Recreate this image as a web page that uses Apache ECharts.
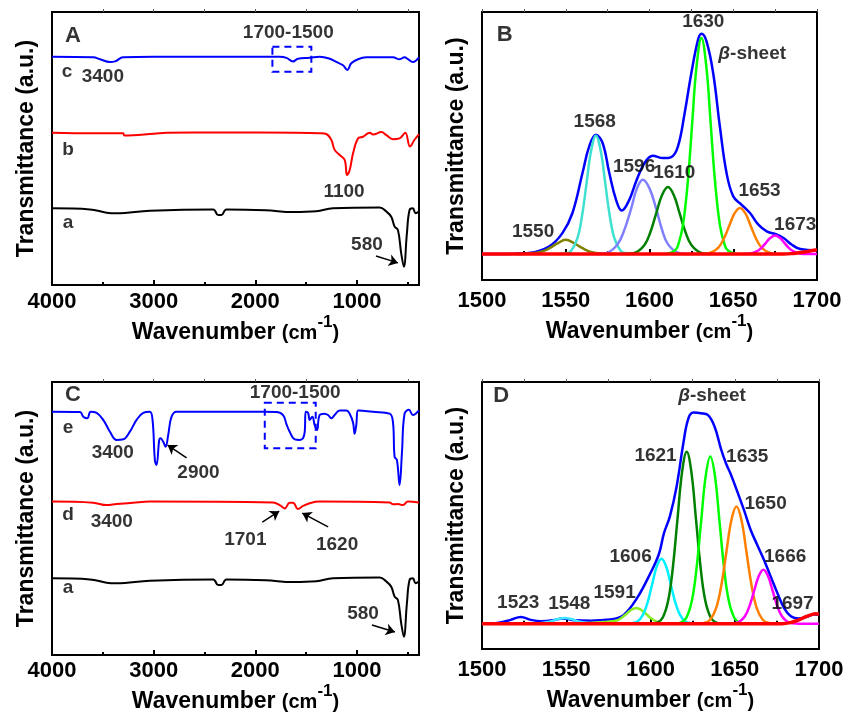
<!DOCTYPE html>
<html>
<head>
<meta charset="utf-8">
<script src="https://cdn.jsdelivr.net/npm/echarts@6/dist/echarts.min.js"></script>
<style>
  html, body { margin: 0; padding: 0; background: #fff; }
  #chart { width: 856px; height: 714px; }
</style>
</head>
<body>
<div id="chart"></div>
<script>
// FTIR spectra, panels A and C: [wavenumber, transmittance (a.u.)]
const specA_c = [[4000,83.6],[3594,83.4],[3528,82.7],[3430,81.7],[3381,81.9],[3300,83.4],[3000,83.6],[2500,83.6],[2000,83.6],[1760,83.6],[1694,83.2],[1629,81.9],[1580,82.9],[1465,83.2],[1367,83.6],[1269,82.9],[1203,81.7],[1138,80.5],[1095,78.8],[1056,81.2],[990,82.7],[909,83.4],[646,83.4],[581,82.7],[532,83.4],[499,82.7],[450,81.7],[390,83.4]];
const specA_b = [[4000,55.8],[3600,55.6],[3300,55.6],[3290,54.8],[3000,55.4],[2873,55.8],[2350,55.9],[1600,55.8],[1367,55.6],[1302,55.3],[1252,53.1],[1220,49.5],[1170,47.6],[1121,45.8],[1098,40.3],[1072,42.1],[1039,48.2],[990,53.7],[941,54.3],[875,55.8],[842,55.1],[760,56.0],[711,54.9],[646,53.4],[581,53.7],[525,55.8],[479,50.7],[436,53.1],[390,55.3]];
const spec_a = [[4000,28.1],[3627,27.7],[3463,26.5],[3365,26.3],[3037,27.2],[2415,27.7],[2366,25.6],[2333,25.6],[2284,27.7],[1900,27.4],[1629,26.7],[1400,27.0],[1236,28.1],[777,28.4],[711,26.9],[663,25.0],[630,21.4],[597,20.1],[565,11.6],[539,6.7],[509,18.9],[483,27.5],[450,28.1],[424,26.3],[390,26.9]];
const specC_e = [[4000,89.1],[3725,89.0],[3692,87.3],[3653,86.7],[3620,89.1],[3561,88.7],[3496,86.1],[3430,81.8],[3365,78.8],[3299,79.0],[3234,81.8],[3168,86.1],[3103,88.7],[3037,89.1],[3011,86.1],[2988,71.4],[2972,69.6],[2945,78.8],[2932,79.4],[2906,78.1],[2883,76.3],[2857,80.6],[2824,87.3],[2775,89.1],[1924,89.1],[1793,89.0],[1727,87.9],[1694,84.6],[1662,81.8],[1612,79.0],[1563,78.8],[1531,79.4],[1514,81.8],[1504,89.1],[1481,88.7],[1465,86.1],[1439,87.3],[1416,84.2],[1393,82.4],[1367,87.9],[1318,88.4],[1285,87.9],[1252,86.7],[1220,87.9],[1170,89.6],[1104,89.6],[1072,88.4],[1039,85.2],[1023,81.0],[1006,84.6],[990,89.6],[842,89.1],[679,88.4],[646,85.2],[630,72.6],[607,71.4],[581,62.3],[558,73.9],[532,88.4],[489,89.8],[450,87.9],[390,89.6]];
const specC_d = [[4000,56.2],[3594,55.8],[3463,54.9],[3365,55.3],[3201,55.8],[3037,56.2],[1825,55.9],[1760,54.9],[1711,53.7],[1662,55.8],[1629,55.8],[1580,53.5],[1531,54.6],[1465,55.6],[1367,56.2],[679,55.9],[646,55.2],[597,55.3],[548,54.9],[499,56.2],[390,55.9]];

// Peak fitting, panel B: [wavenumber, intensity (a.u.)]
const fitB_sum = [[1500,0],[1520,0.2],[1528,0.5],[1540,3.5],[1548,9.7],[1554,19.0],[1560,37.5],[1564,49.8],[1568,55.2],[1572,51.4],[1576,37.5],[1580,25.2],[1583.4,20.1],[1588,25.2],[1592,33.6],[1597,42.1],[1602,45.5],[1608,44.4],[1613,44.9],[1617,49.8],[1621,65.3],[1625,83.8],[1629,99.2],[1631,101.9],[1634,98.5],[1638,83.8],[1642,59.1],[1646,37.5],[1650,26.7],[1655,22.8],[1660,19.0],[1665,13.6],[1670,10.5],[1675,9.3],[1680,7.4],[1685,4.3],[1690,2.3],[1700,1.7]];
const fitB_1550 = [[1520,0],[1528,0.3],[1535,1.0],[1540,2.6],[1545,4.9],[1550,6.6],[1555,5.0],[1560,2.7],[1565,1.0],[1572,0.2],[1580,0]];
const fitB_1568 = [[1545,0],[1550,0.4],[1553,1.3],[1557,7.4],[1560,19.0],[1562.5,33.3],[1565,47.2],[1568,54.8],[1571,47.2],[1573.5,33.3],[1576,19.0],[1579,7.4],[1583,1.3],[1586,0.4],[1592,0]];
const fitB_1596 = [[1568,0],[1575,0.7],[1581,4.6],[1585,11.2],[1589,20.9],[1592.5,30.4],[1596,34.4],[1600,30.4],[1604,20.9],[1607.5,11.2],[1611,4.6],[1617,0.7],[1624,0]];
const fitB_1610 = [[1586,0],[1591,0.5],[1597,4.2],[1600.5,10.1],[1604,18.8],[1607.5,27.3],[1611,31.0],[1614.5,27.3],[1618,18.8],[1621.5,10.1],[1625,4.2],[1631,0.5],[1636,0]];
const fitB_1630 = [[1610,0],[1615,1.5],[1617,3.9],[1620,13.5],[1623,34.7],[1625.5,60.7],[1628,86.2],[1631,100],[1634,86.2],[1636.5,60.7],[1639,34.7],[1642,13.5],[1645,3.9],[1647,1.5],[1652,0]];
const fitB_1653 = [[1632,0],[1636,0.5],[1641,2.9],[1644.25,6.9],[1647.5,12.9],[1650.75,18.8],[1654,21.3],[1657.25,18.8],[1660.5,12.9],[1663.75,6.9],[1667,2.9],[1672,0.5],[1676,0]];
const fitB_1673 = [[1656,0],[1660,0.2],[1664,1.2],[1667,3.0],[1669.5,5.2],[1672,7.4],[1675,8.6],[1678,7.4],[1680.5,5.2],[1683,3.0],[1686,1.2],[1690,0.2],[1700,0]];
const fitB_base = [[1500,0],[1680,0],[1686,0.3],[1690,0.7],[1695,1.3],[1700,2.0]];

// Peak fitting, panel D
const fitD_sum = [[1500,0],[1510,0.5],[1517,1.8],[1523,3.2],[1529,1.8],[1535,1.2],[1542,1.6],[1548,2.5],[1555,1.6],[1565,1.4],[1572,1.8],[1578,2.2],[1584,4.0],[1592,12.1],[1600,24.0],[1605,33.0],[1608,42.9],[1611.5,50.8],[1615.5,65.0],[1619.5,85.5],[1622.5,97.3],[1625.5,100],[1630,99.7],[1634,98.9],[1638,93.4],[1642,82.3],[1645,75.5],[1647.4,71.3],[1650.4,65.0],[1655.4,54.0],[1659.4,44.5],[1663.3,37.4],[1667.3,30.3],[1671.3,22.4],[1675.3,14.5],[1679.3,7.4],[1683.3,3.5],[1688,2.4],[1693,3.3],[1697,4.3],[1700,4.3]];
const fitD_1548 = [[1532,0],[1540,0.9],[1545,2.2],[1549,2.7],[1553,2.2],[1558,0.9],[1566,0]];
const fitD_1591 = [[1555,0],[1565,0.4],[1572,0.8],[1579.5,1.4],[1582.5,2.6],[1585.5,4.5],[1588.5,6.5],[1591.5,7.4],[1594.5,6.5],[1597.5,4.5],[1600.5,2.4],[1603.5,1.0],[1607.5,0.2],[1612,0]];
const fitD_1606 = [[1585,0],[1589,0.2],[1592.2,1.0],[1595.5,4.2],[1598.25,10.0],[1601,18.7],[1603.75,27.2],[1606.5,30.8],[1609.25,27.2],[1612,18.7],[1614.75,10.0],[1617.5,4.2],[1620.8,1.0],[1624,0.2],[1628,0]];
const fitD_1621 = [[1600,0],[1603.9,0.5],[1607.2,2.8],[1610.5,11.0],[1613.25,26.5],[1616,49.4],[1618.75,71.9],[1621.5,81.5],[1624.25,71.9],[1627,49.4],[1629.75,26.5],[1632.5,11.0],[1635.8,2.8],[1639.1,0.5],[1643,0]];
const fitD_1635 = [[1614,0],[1617.9,0.5],[1621.2,2.7],[1624.5,10.7],[1627.25,25.7],[1630,48.0],[1632.75,69.9],[1635.5,79.2],[1638.25,69.9],[1641,48.0],[1643.75,25.7],[1646.5,10.7],[1649.8,2.7],[1653.1,0.5],[1657,0]];
const fitD_1650 = [[1628,0],[1631.8,0.3],[1635.4,1.9],[1639,7.5],[1642,18.0],[1645,33.7],[1648,49.0],[1651,55.5],[1654,49.0],[1657,33.7],[1660,18.0],[1663,7.5],[1666.6,1.9],[1670.2,0.3],[1674,0]];
const fitD_1666 = [[1646,0],[1649.4,0.15],[1652.7,0.9],[1656,3.5],[1658.75,8.3],[1661.5,15.5],[1664.25,22.6],[1667,25.6],[1669.75,22.6],[1672.5,15.5],[1675.25,8.3],[1678,3.5],[1681.3,0.9],[1684.6,0.15],[1688,0],[1700,0]];
const fitD_base = [[1500,0],[1678,0],[1683,0.5],[1688,1.8],[1692,3.2],[1696,4.4],[1698,4.7],[1700,4.5]];

// tick values for the wide (4000-400) axes
const ticksWide = [1000, 2000, 3000, 4000];
const minorWide = [500, 1500, 2500, 3500];
const topWide = [500, 1000, 1500, 2000, 2500, 3000, 3500];

// annotation texts: [x, y, text, fontSize?]
const notesA = [[3794,91.2,'A',22],[1676,92.3,'1700-1500'],[3853,78.0,'c'],[3500,76.2,'3400'],[3843,49.5,'b'],[1127,34.1,'1100'],[3843,22.7,'a'],[902,14.7,'580']];
const notesB = [[1513.6,101.5,'B',22],[1632.1,107.3,'1630'],[1661.3,92.7,'{i|β}-sheet'],[1567.3,61.0,'1568'],[1590.8,40.6,'1596'],[1614.8,37.5,'1610'],[1665.7,29.5,'1653'],[1687.0,13.6,'1673'],[1530.5,10.2,'1550']];
const notesC = [[3794,95.2,'C',22],[1608,96.0,'1700-1500'],[3843,83.2,'e'],[3402,74.0,'3400'],[2559,66.7,'2900'],[3843,51.3,'d'],[3412,48.7,'3400'],[2098,42.1,'1701'],[1196,40.3,'1620'],[3843,24.5,'a'],[941,15.0,'580']];
const notesD = [[1511.4,107.9,'D',22],[1636.5,107.9,'{i|β}-sheet'],[1603,79.5,'1621'],[1657.4,78.9,'1635'],[1668.3,56.6,'1650'],[1588.2,31.9,'1606'],[1679.9,31.9,'1666'],[1578.7,14.5,'1591'],[1684.3,9.3,'1697'],[1521.5,10.1,'1523'],[1551.8,9.5,'1548']];
const arrowsA = [[813,10.6,597,8.1]];
const arrowsC = [[2676,72.2,2863,76.9],[1931,48.7,1765,52.7],[1284,46.9,1539,52.0],[853,11.0,627,8.4]];

const FONT = '"Liberation Sans", Arial, Helvetica, sans-serif';

function makeGrid(left, top, width, height) {
  return {
    left, top, width, height,
    show: true, borderColor: '#000', borderWidth: 2,
    backgroundColor: 'transparent', containLabel: false, outerBoundsMode: 'none'
  };
}

const xName = {
  name: '{n|Wavenumber }{p|(cm}{s|-1}{p|)}',
  nameLocation: 'middle',
  nameTextStyle: {
    color: '#000', fontFamily: FONT, fontWeight: 'bold',
    rich: {
      n: { fontSize: 23, fontWeight: 'bold', fontFamily: FONT, color: '#000', verticalAlign: 'bottom' },
      p: { fontSize: 20, fontWeight: 'bold', fontFamily: FONT, color: '#000', verticalAlign: 'bottom' },
      s: { fontSize: 17, fontWeight: 'bold', fontFamily: FONT, color: '#000', verticalAlign: 'bottom', padding: [0, 0, 13, 0] }
    }
  }
};

const tickLabel = { fontSize: 22, fontWeight: 'bold', fontFamily: FONT, color: '#000', formatter: v => String(v) };

// 4000 -> 400 axes: custom tick positions, since the range does not start on a round value
function makeWideXAxes(gridIndex, margin, nameGap) {
  const base = { type: 'value', gridIndex, min: 390, max: 4000, inverse: true, splitLine: { show: false }, axisLine: { show: false } };
  return [
    {
      ...base, ...xName, nameGap, position: 'bottom',
      axisTick: { show: true, inside: true, length: 5, customValues: ticksWide, lineStyle: { color: '#000', width: 2 } },
      axisLabel: { show: true, customValues: ticksWide, margin, ...tickLabel }
    },
    {
      ...base, position: 'bottom',
      axisTick: { show: true, inside: true, length: 3, customValues: minorWide, lineStyle: { color: '#000', width: 2 } },
      axisLabel: { show: false }
    },
    {
      ...base, position: 'top',
      axisTick: { show: true, inside: false, length: 3, customValues: topWide, lineStyle: { color: '#555', width: 1 } },
      axisLabel: { show: false }
    }
  ];
}

// 1500 -> 1700 axes
function makeNarrowXAxes(gridIndex, margin, nameGap) {
  const base = { type: 'value', gridIndex, min: 1500, max: 1700, interval: 50, splitLine: { show: false }, axisLine: { show: false } };
  return [
    {
      ...base, ...xName, nameGap, position: 'bottom',
      axisTick: { show: true, inside: true, length: 5, lineStyle: { color: '#000', width: 2 } },
      minorTick: { show: true, splitNumber: 2, length: 3, lineStyle: { color: '#000', width: 2 } },
      axisLabel: { show: true, margin, ...tickLabel }
    },
    {
      ...base, position: 'bottom', show: false
    },
    {
      ...base, interval: 25, position: 'top',
      axisTick: { show: true, inside: false, length: 3, lineStyle: { color: '#555', width: 1 } },
      axisLabel: { show: false }
    }
  ];
}

function makeYAxis(gridIndex, min, max) {
  return {
    type: 'value', gridIndex, min, max,
    axisLine: { show: false }, axisTick: { show: false }, axisLabel: { show: false }, splitLine: { show: false },
    name: 'Transmittance (a.u.)', nameLocation: 'middle', nameGap: 14,
    nameTextStyle: { fontSize: 23, fontWeight: 'bold', fontFamily: FONT, color: '#000' }
  };
}

function curve(panel, data, color, width, z) {
  return {
    type: 'line', data, xAxisIndex: panel * 3, yAxisIndex: panel,
    showSymbol: false, symbol: 'none', smooth: 0.4, silent: true,
    lineStyle: { color, width }, itemStyle: { color }, z: z || 2
  };
}

function notes(panel, items) {
  return {
    type: 'scatter', xAxisIndex: panel * 3, yAxisIndex: panel,
    symbolSize: 1, itemStyle: { color: 'transparent' }, silent: true, z: 10,
    data: items.map(t => ({
      value: [t[0], t[1]],
      label: { formatter: t[2], fontSize: t[3] || 19 }
    })),
    label: {
      show: true, position: 'inside', color: '#000',
      fontWeight: 'bold', fontFamily: FONT,
      rich: { i: { fontStyle: 'italic', fontWeight: 'bold', fontSize: 19, fontFamily: FONT, color: '#000' } }
    }
  };
}

function arrows(panel, items) {
  return {
    type: 'lines', coordinateSystem: 'cartesian2d',
    xAxisIndex: panel * 3, yAxisIndex: panel,
    symbol: ['none', 'arrow'], symbolSize: 9, silent: true, z: 10,
    lineStyle: { color: '#000', width: 1.5, curveness: 0, opacity: 1 },
    data: items.map(a => ({ coords: [[a[0], a[1]], [a[2], a[3]]] }))
  };
}

function dashedBox(x1, y1, x2, y2) {
  return {
    silent: true,
    itemStyle: { color: 'rgba(0,0,0,0)', borderColor: '#0000ff', borderWidth: 2, borderType: [7, 5] },
    label: { show: false },
    data: [[{ coord: [x1, y1] }, { coord: [x2, y2] }]]
  };
}

const chart = echarts.init(document.getElementById('chart'), null, { renderer: 'canvas' });

const blueA = curve(0, specA_c, '#0000ff', 2);
blueA.markArea = dashedBox(1832, 87.3, 1449, 78.1);
const blueC = curve(2, specC_e, '#0000ff', 2);
blueC.markArea = dashedBox(1907, 92.4, 1406, 75.7);

const option = {
  animation: false,
  backgroundColor: '#fff',
  grid: [
    makeGrid(52, 12, 367, 273),
    makeGrid(482, 12, 335, 268),
    makeGrid(52, 382, 367, 273),
    makeGrid(482, 382, 337, 267)
  ],
  xAxis: [
    ...makeWideXAxes(0, 6, 25),
    ...makeNarrowXAxes(1, 10, 31),
    ...makeWideXAxes(2, 5, 27),
    ...makeNarrowXAxes(3, 10, 30)
  ],
  yAxis: [
    makeYAxis(0, 0, 100),
    makeYAxis(1, -12, 112),
    makeYAxis(2, 0, 100),
    makeYAxis(3, -12, 114.5)
  ],
  series: [
    // A
    blueA,
    curve(0, specA_b, '#ff0000', 2),
    curve(0, spec_a, '#000000', 2),
    notes(0, notesA),
    arrows(0, arrowsA),
    // B
    curve(1, fitB_sum, '#0000ff', 2.5, 2),
    curve(1, fitB_1550, '#808000', 2.5, 3),
    curve(1, fitB_1568, '#40e0d0', 2.5, 3),
    curve(1, fitB_1596, '#8080ff', 2.5, 3),
    curve(1, fitB_1610, '#008000', 2.5, 3),
    curve(1, fitB_1630, '#00ff00', 2.5, 3),
    curve(1, fitB_1653, '#ff8000', 2.5, 3),
    curve(1, fitB_1673, '#ff00ff', 2.5, 3),
    curve(1, fitB_base, '#ff0000', 3.5, 4),
    notes(1, notesB),
    // C
    blueC,
    curve(2, specC_d, '#ff0000', 2),
    curve(2, spec_a, '#000000', 2),
    notes(2, notesC),
    arrows(2, arrowsC),
    // D
    curve(3, fitD_sum, '#0000ff', 2.5, 2),
    curve(3, fitD_1548, '#40e8ff', 2.5, 3),
    curve(3, fitD_1591, '#88ee22', 2.5, 3),
    curve(3, fitD_1606, '#00f0ff', 2.5, 3),
    curve(3, fitD_1621, '#008000', 2.5, 3),
    curve(3, fitD_1635, '#00ff00', 2.5, 3),
    curve(3, fitD_1650, '#ff8000', 2.5, 3),
    curve(3, fitD_1666, '#ff00ff', 2.5, 3),
    curve(3, fitD_base, '#ff0000', 3.5, 4),
    notes(3, notesD)
  ]
};

chart.setOption(option);
</script>
</body>
</html>
